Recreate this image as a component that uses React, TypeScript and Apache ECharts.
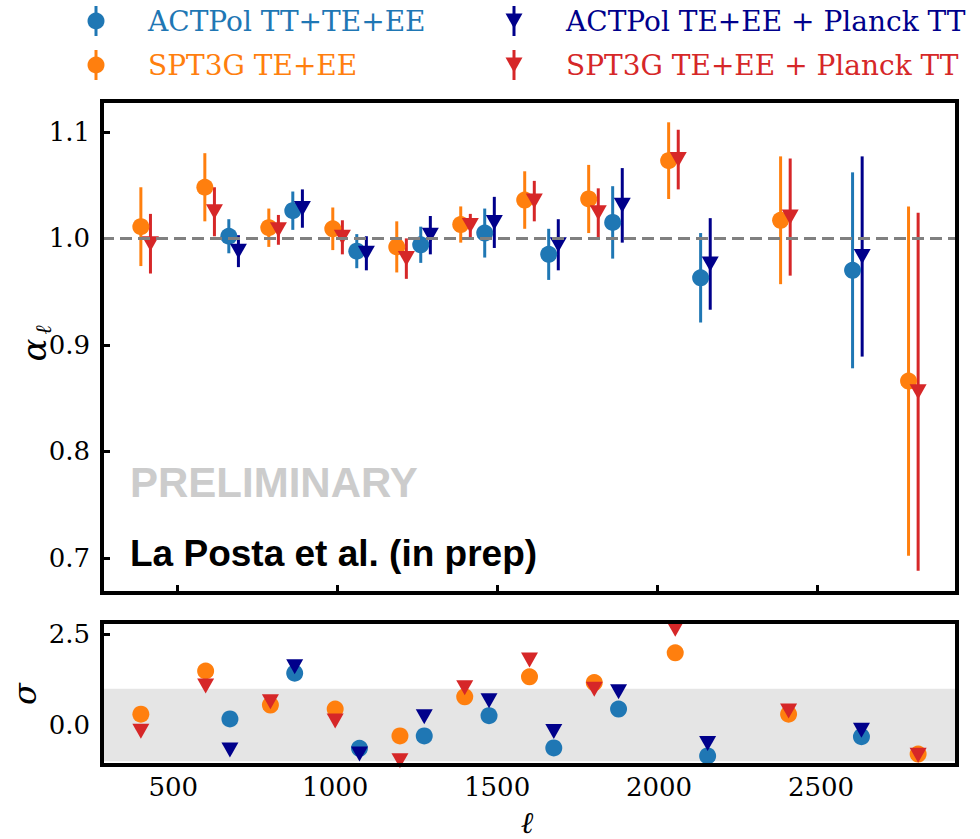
import React, { useEffect, useRef } from "react";
import * as echarts from "echarts";

// ---------- data ----------
const sptEll = [400, 600, 800, 1000, 1200, 1400, 1600, 1800, 2050, 2400, 2800];
const actEll = [675, 875, 1075, 1275, 1475, 1675, 1875, 2150, 2625];

const sptAlpha = [1.011, 1.048, 1.010, 1.009, 0.992, 1.013, 1.036, 1.037, 1.073, 1.017, 0.866];
const sptErr = [0.037, 0.032, 0.018, 0.020, 0.024, 0.017, 0.027, 0.032, 0.036, 0.060, 0.164];
const sptPlanckAlpha = [0.995, 1.025, 1.008, 1.001, 0.981, 1.012, 1.035, 1.024, 1.074, 1.020, 0.856];
const sptPlanckErr = [0.028, 0.023, 0.014, 0.016, 0.019, 0.011, 0.019, 0.023, 0.028, 0.055, 0.168];
const actAlpha = [1.002, 1.026, 0.988, 0.994, 1.005, 0.985, 1.015, 0.963, 0.970];
const actErr = [0.016, 0.018, 0.016, 0.017, 0.023, 0.024, 0.034, 0.042, 0.092];
const actPlanckAlpha = [0.988, 1.028, 0.986, 1.003, 1.015, 0.994, 1.031, 0.976, 0.983];
const actPlanckErr = [0.015, 0.018, 0.016, 0.018, 0.024, 0.024, 0.035, 0.043, 0.094];

const sptSigma = [0.30, 1.49, 0.55, 0.44, -0.30, 0.78, 1.33, 1.17, 1.99, 0.30, -0.80];
const sptPlanckSigma = [-0.17, 1.08, 0.64, 0.11, -0.98, 1.03, 1.79, 0.99, 2.64, 0.39, -0.83];
const actSigma = [0.17, 1.43, -0.64, -0.30, 0.26, -0.63, 0.44, -0.85, -0.32];
const actPlanckSigma = [-0.69, 1.61, -0.80, 0.23, 0.67, -0.18, 0.92, -0.51, -0.14];

const ellTicks = [500, 1000, 1500, 2000, 2500];
const alphaTicks = [0.7, 0.8, 0.9, 1.0, 1.1];
const sigmaTicks = [0.0, 2.5];

const legendNames = [
  "ACTPol TT+TE+EE",
  "SPT3G TE+EE",
  "ACTPol TE+EE + Planck TT",
  "SPT3G TE+EE + Planck TT",
];

// ---------- styles ----------
const C_BLUE = "#1f77b4";
const C_ORANGE = "#ff7f0e";
const C_NAVY = "#00008b";
const C_RED = "#d62728";
const SERIF = "DejaVu Serif";
const SANS = "Liberation Sans";
const OFFSET = 15;

const G0 = { left: 102, top: 101, width: 855, height: 492 };
const G1 = { left: 102, top: 622, width: 855, height: 143 };

function errBars(name: string, xs: number[], ys: number[], es: number[], color: string, dx: number) {
  return {
    type: "custom",
    name,
    xAxisIndex: 0,
    yAxisIndex: 0,
    clip: true,
    silent: true,
    data: xs.map((x, i) => [x + dx, ys[i], es[i]]),
    renderItem: (_p: any, api: any) => {
      const x = api.value(0);
      const y = api.value(1);
      const e = api.value(2);
      const a = api.coord([x, y + e]);
      const b = api.coord([x, y - e]);
      return {
        type: "line",
        shape: { x1: a[0], y1: a[1], x2: b[0], y2: b[1] },
        style: { stroke: color, lineWidth: 3 },
      };
    },
  };
}

function markers(name: string, xs: number[], ys: number[], color: string, tri: boolean, dx: number, axis: number) {
  return {
    type: "scatter",
    name,
    xAxisIndex: axis,
    yAxisIndex: axis,
    silent: true,
    symbol: tri ? "triangle" : "circle",
    symbolRotate: tri ? 180 : 0,
    symbolSize: tri ? [17, 15] : 17,
    itemStyle: { color, opacity: 1 },
    data: xs.map((x, i) => [x + dx, ys[i]]),
  };
}

function legendItem(x: number, y: number, color: string, tri: boolean, label: string) {
  const els: any[] = [
    {
      type: "line",
      shape: { x1: x, y1: y - 15, x2: x, y2: y + 15 },
      style: { stroke: color, lineWidth: 3 },
    },
  ];
  if (tri) {
    els.push({
      type: "polygon",
      shape: { points: [[x - 8.5, y - 7.5], [x + 8.5, y - 7.5], [x, y + 7.5]] },
      style: { fill: color },
    });
  } else {
    els.push({ type: "circle", shape: { cx: x, cy: y, r: 8.5 }, style: { fill: color } });
  }
  els.push({
    type: "text",
    x: x + 52,
    y,
    style: {
      text: label,
      fill: color,
      fontFamily: SERIF,
      fontSize: 28,
      align: "left",
      verticalAlign: "middle",
    },
  });
  return els;
}

export default function App() {
  const ref = useRef<HTMLDivElement>(null);

  useEffect(() => {
    const chart = echarts.init(ref.current!, null, { renderer: "svg" });

    const tickStyle = { show: true, inside: true, length: 8, lineStyle: { color: "#000", width: 3 } };
    const labelStyle = { fontFamily: SERIF, fontSize: 26, color: "#000" };

    const option: any = {
      animation: false,
      backgroundColor: "#fff",
      grid: [
        { ...G0, containLabel: false },
        { ...G1, containLabel: false },
      ],
      xAxis: [
        {
          gridIndex: 0,
          type: "value",
          min: 263.5,
          max: 2936.5,
          axisLine: { show: false },
          splitLine: { show: false },
          axisTick: { ...tickStyle, customValues: ellTicks },
          axisLabel: { show: false },
        },
        {
          gridIndex: 1,
          type: "value",
          min: 280,
          max: 2920,
          axisLine: { show: false },
          splitLine: { show: false },
          axisTick: { ...tickStyle, customValues: ellTicks },
          axisLabel: { ...labelStyle, margin: 9, customValues: ellTicks, formatter: (v: number) => String(v) },
        },
      ],
      yAxis: [
        {
          gridIndex: 0,
          type: "value",
          min: 0.667,
          max: 1.129,
          axisLine: { show: false },
          splitLine: { show: false },
          axisTick: { ...tickStyle, customValues: alphaTicks },
          axisLabel: { ...labelStyle, margin: 12, customValues: alphaTicks, formatter: (v: number) => v.toFixed(1) },
        },
        {
          gridIndex: 1,
          type: "value",
          min: -1.1,
          max: 2.84,
          axisLine: { show: false },
          splitLine: { show: false },
          axisTick: { ...tickStyle, customValues: sigmaTicks },
          axisLabel: { ...labelStyle, margin: 12, customValues: sigmaTicks, formatter: (v: number) => v.toFixed(1) },
        },
      ],
      series: [
        {
          type: "line",
          xAxisIndex: 0,
          yAxisIndex: 0,
          data: [],
          z: 1,
          silent: true,
          markLine: {
            silent: true,
            symbol: "none",
            label: { show: false },
            lineStyle: { color: "#808080", width: 3, type: [12, 6] },
            data: [{ yAxis: 1.0 }],
          },
        },
        {
          type: "line",
          xAxisIndex: 1,
          yAxisIndex: 1,
          data: [],
          z: 1,
          silent: true,
          markArea: {
            silent: true,
            itemStyle: { color: "#e5e5e5" },
            data: [[{ yAxis: -1 }, { yAxis: 1 }]],
          },
        },
        errBars(legendNames[0], actEll, actAlpha, actErr, C_BLUE, -OFFSET),
        markers(legendNames[0], actEll, actAlpha, C_BLUE, false, -OFFSET, 0),
        errBars(legendNames[1], sptEll, sptAlpha, sptErr, C_ORANGE, -OFFSET),
        markers(legendNames[1], sptEll, sptAlpha, C_ORANGE, false, -OFFSET, 0),
        errBars(legendNames[2], actEll, actPlanckAlpha, actPlanckErr, C_NAVY, OFFSET),
        markers(legendNames[2], actEll, actPlanckAlpha, C_NAVY, true, OFFSET, 0),
        errBars(legendNames[3], sptEll, sptPlanckAlpha, sptPlanckErr, C_RED, OFFSET),
        markers(legendNames[3], sptEll, sptPlanckAlpha, C_RED, true, OFFSET, 0),
        markers(legendNames[0] + " σ", actEll, actSigma, C_BLUE, false, 0, 1),
        markers(legendNames[1] + " σ", sptEll, sptSigma, C_ORANGE, false, 0, 1),
        markers(legendNames[2] + " σ", actEll, actPlanckSigma, C_NAVY, true, 0, 1),
        markers(legendNames[3] + " σ", sptEll, sptPlanckSigma, C_RED, true, 0, 1),
      ],
      graphic: [
        {
          type: "rect",
          z: 100,
          shape: { x: G0.left, y: G0.top, width: G0.width, height: G0.height },
          style: { fill: "none", stroke: "#000", lineWidth: 4 },
        },
        {
          type: "rect",
          z: 100,
          shape: { x: G1.left, y: G1.top, width: G1.width, height: G1.height },
          style: { fill: "none", stroke: "#000", lineWidth: 4 },
        },
        {
          type: "text",
          z: 50,
          x: 130,
          y: 482,
          style: {
            text: "PRELIMINARY",
            fill: "#cccccc",
            fontFamily: SANS,
            fontWeight: "bold",
            fontSize: 42,
            align: "left",
            verticalAlign: "middle",
          },
        },
        {
          type: "text",
          z: 50,
          x: 130,
          y: 553,
          style: {
            text: "La Posta et al. (in prep)",
            fill: "#000",
            fontFamily: SANS,
            fontWeight: "bold",
            fontSize: 37,
            align: "left",
            verticalAlign: "middle",
          },
        },
        {
          type: "text",
          x: 34,
          y: 350,
          rotation: Math.PI / 2,
          style: {
            text: "α",
            fill: "#000",
            fontFamily: SERIF,
            fontStyle: "italic",
            fontSize: 34,
            align: "center",
            verticalAlign: "middle",
          },
        },
        {
          type: "text",
          x: 43,
          y: 330,
          rotation: Math.PI / 2,
          style: {
            text: "ℓ",
            fill: "#000",
            fontFamily: SERIF,
            fontStyle: "italic",
            fontSize: 22,
            align: "center",
            verticalAlign: "middle",
          },
        },
        {
          type: "text",
          x: 25,
          y: 694,
          rotation: Math.PI / 2,
          style: {
            text: "σ",
            fill: "#000",
            fontFamily: SERIF,
            fontStyle: "italic",
            fontSize: 32,
            align: "center",
            verticalAlign: "middle",
          },
        },
        {
          type: "text",
          x: 527,
          y: 822,
          style: {
            text: "ℓ",
            fill: "#000",
            fontFamily: SERIF,
            fontStyle: "italic",
            fontSize: 30,
            align: "center",
            verticalAlign: "middle",
          },
        },
        ...legendItem(96, 21, C_BLUE, false, legendNames[0]),
        ...legendItem(96, 65, C_ORANGE, false, legendNames[1]),
        ...legendItem(514, 21, C_NAVY, true, legendNames[2]),
        ...legendItem(514, 65, C_RED, true, legendNames[3]),
      ],
    };

    chart.setOption(option);
    return () => chart.dispose();
  }, []);

  return (
    <div
      ref={ref}
      style={{ position: "fixed", left: 0, top: 0, width: 980, height: 839 }}
    />
  );
}
